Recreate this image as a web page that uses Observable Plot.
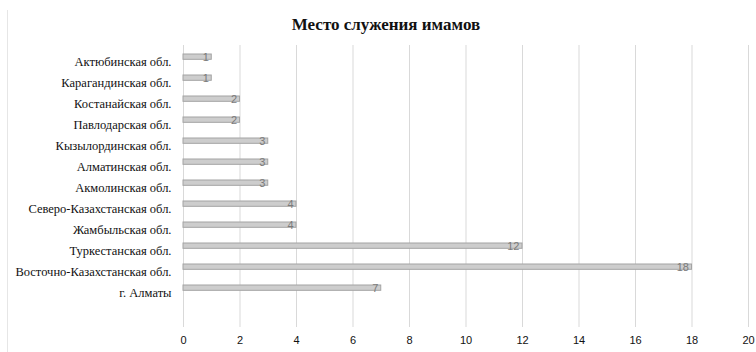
<!DOCTYPE html>
<html>
<head>
<meta charset="utf-8">
<script src="https://cdn.jsdelivr.net/npm/d3@7"></script>
<script src="https://cdn.jsdelivr.net/npm/@observablehq/plot@0.6"></script>
<style>
  html, body { margin: 0; padding: 0; background: #fff; }
  #wrap { position: relative; width: 756px; height: 352px; overflow: hidden; }
  #edge { position: absolute; left: 7px; top: 10px; width: 1px; height: 342px; background: #e6e6e6; }
  #title { position: absolute; top: 15px; left: 0; width: 772px; text-align: center;
           font-family: "Liberation Serif", serif; font-weight: bold; font-size: 17px; color: #111; }
</style>
</head>
<body>
<div id="wrap">
  <div id="edge"></div>
  <div id="title">Место служения имамов</div>
  <div id="chart"></div>
</div>
<script>
const title = "Место служения имамов";
const regions = [
  "Актюбинская обл.",
  "Карагандинская обл.",
  "Костанайская обл.",
  "Павлодарская обл.",
  "Кызылординская обл.",
  "Алматинская обл.",
  "Акмолинская обл.",
  "Северо-Казахстанская обл.",
  "Жамбыльская обл.",
  "Туркестанская обл.",
  "Восточно-Казахстанская обл.",
  "г. Алматы"
];
const counts = [1, 1, 2, 2, 3, 3, 3, 4, 4, 12, 18, 7];
const xTicks = [0, 2, 4, 6, 8, 10, 12, 14, 16, 18, 20];

const data = regions.map((r, i) => ({region: r, count: counts[i]}));
const yDomain = [...regions, " "];

const chart = Plot.plot({
  width: 756,
  height: 352,
  marginTop: 45,
  marginBottom: 25,
  marginLeft: 183,
  marginRight: 8,
  style: {background: "transparent"},
  x: {domain: [0, 20], ticks: xTicks},
  y: {domain: yDomain, padding: 0},
  marks: [
    Plot.gridX(xTicks, {stroke: "#d9d9d9", strokeOpacity: 1}),
    Plot.axisX({ticks: xTicks, tickSize: 0, tickPadding: 9, label: null,
      fontFamily: "Liberation Sans", fontSize: 11, fill: "#111"}),
    Plot.axisY({tickSize: 0, tickPadding: 12, label: null, dy: 1,
      fontFamily: "Liberation Serif", fontSize: 12.5, fill: "#111",
      stroke: "#111", strokeWidth: 0.25, tickFormat: d => d}),
    Plot.barX(data, {x: "count", y: "region", fill: "#cdcdcd", stroke: "#a3a3a3", strokeWidth: 1,
      insetTop: 4, insetBottom: 11.7}),
    Plot.text(data, {x: "count", y: "region", text: d => String(d.count), textAnchor: "end",
      dx: -3, dy: -3.5, fontFamily: "Liberation Sans", fontSize: 11, fill: "#7a7a7a"})
  ]
});
document.getElementById("chart").appendChild(chart);
</script>
</body>
</html>
